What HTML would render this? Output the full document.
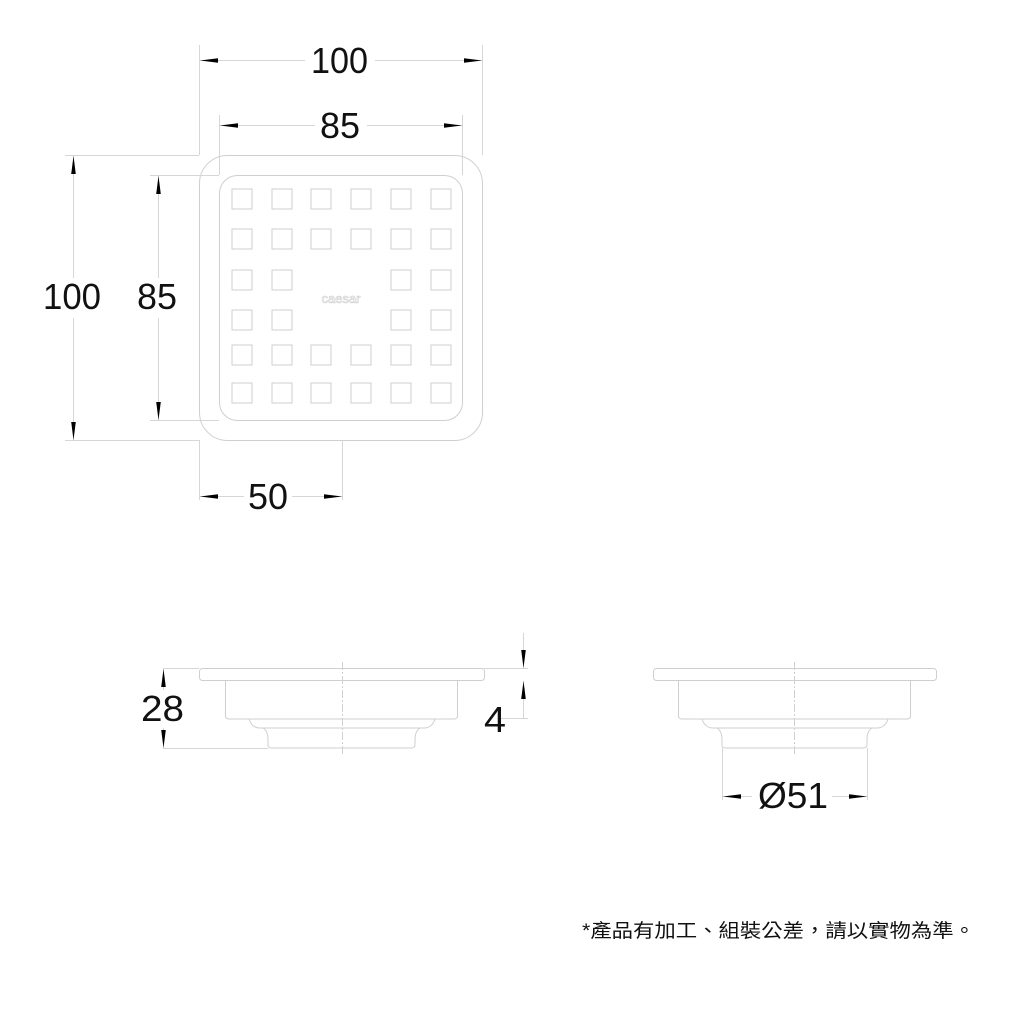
<!DOCTYPE html>
<html><head><meta charset="utf-8"><style>
html,body{margin:0;padding:0;background:#fff;}
svg{display:block;}
.l{stroke:#cfcfcf;stroke-width:1;fill:none;}
.d{stroke:#d6d6d6;stroke-width:1;fill:none;}
.t{font-family:"Liberation Sans",sans-serif;font-size:36px;fill:#111;}
</style></head><body>
<svg width="1036" height="1024" viewBox="0 0 1036 1024" xmlns="http://www.w3.org/2000/svg">
<defs>
<marker id="a" markerWidth="18" markerHeight="6" refX="18" refY="3" orient="auto-start-reverse" markerUnits="userSpaceOnUse">
<path d="M18,3 L0,0.7 L0,5.3 Z" fill="#000"/></marker>
</defs>
<!-- top view -->
<rect class="l" x="199.5" y="155.5" width="283" height="285" rx="28"/>
<rect class="l" x="219.5" y="175.5" width="243" height="245" rx="18"/>
<g class="l">
<g id="r"><rect x="232" y="189" width="20" height="20"/><rect x="272" y="189" width="20" height="20"/><rect x="311" y="189" width="20" height="20"/><rect x="351" y="189" width="20" height="20"/><rect x="391" y="189" width="20" height="20"/><rect x="431" y="189" width="20" height="20"/></g>
<use href="#r" y="40"/>
<use href="#r" y="156"/>
<use href="#r" y="194"/>
<rect x="232" y="270" width="20" height="20"/><rect x="272" y="270" width="20" height="20"/><rect x="391" y="270" width="20" height="20"/><rect x="431" y="270" width="20" height="20"/>
<rect x="232" y="310" width="20" height="20"/><rect x="272" y="310" width="20" height="20"/><rect x="391" y="310" width="20" height="20"/><rect x="431" y="310" width="20" height="20"/>
</g>
<text x="341" y="303" text-anchor="middle" style="font-family:'Liberation Sans',sans-serif;font-size:13px;fill:#fff;stroke:#ccc;stroke-width:0.6">caesar</text>
<g class="d">
<line x1="199.5" y1="45" x2="199.5" y2="155"/><line x1="482.5" y1="45" x2="482.5" y2="155"/>
<line x1="219.5" y1="115" x2="219.5" y2="175"/><line x1="462.5" y1="115" x2="462.5" y2="175"/>
<line x1="65" y1="155.5" x2="199" y2="155.5"/><line x1="65" y1="440.5" x2="199" y2="440.5"/>
<line x1="150" y1="175.5" x2="219" y2="175.5"/><line x1="150" y1="420.5" x2="219" y2="420.5"/>
<line x1="199.5" y1="440" x2="199.5" y2="500"/><line x1="342.5" y1="440" x2="342.5" y2="500"/>
</g>
<line class="d" x1="200" y1="60.5" x2="482" y2="60.5" marker-start="url(#a)" marker-end="url(#a)"/>
<line class="d" x1="220" y1="125.5" x2="462" y2="125.5" marker-start="url(#a)" marker-end="url(#a)"/>
<line class="d" x1="73.5" y1="156" x2="73.5" y2="440" marker-start="url(#a)" marker-end="url(#a)"/>
<line class="d" x1="158.5" y1="176" x2="158.5" y2="420" marker-start="url(#a)" marker-end="url(#a)"/>
<line class="d" x1="200" y1="496.5" x2="342" y2="496.5" marker-start="url(#a)" marker-end="url(#a)"/>
<rect x="305" y="40" width="70" height="36" fill="#fff"/>
<rect x="315" y="106" width="52" height="36" fill="#fff"/>
<rect x="40" y="278" width="64" height="40" fill="#fff"/>
<rect x="134" y="278" width="46" height="40" fill="#fff"/>
<rect x="244" y="478" width="48" height="36" fill="#fff"/>
<text class="t" x="311" y="73" textLength="57" lengthAdjust="spacingAndGlyphs">100</text>
<text class="t" x="320" y="138" textLength="40" lengthAdjust="spacingAndGlyphs">85</text>
<text class="t" x="43" y="309" textLength="58" lengthAdjust="spacingAndGlyphs">100</text>
<text class="t" x="137" y="309" textLength="40" lengthAdjust="spacingAndGlyphs">85</text>
<text class="t" x="248" y="509" textLength="40" lengthAdjust="spacingAndGlyphs">50</text>
<!-- side view 1 -->
<g class="l">
<rect x="199.5" y="668.5" width="285" height="12" rx="3"/>
<path d="M225.5,680 V716 Q225.5,719 229,719 H454 Q457.5,719 457.5,716 V680"/>
<path d="M249,719 Q252,728 260,728 H424 Q432,728 435,719"/>
<path d="M263,728 Q268,731 268,740 V745 Q268,748 272,748 H411 Q415,748 415,745 V740 Q415,731 420,728"/>
</g>
<line x1="342.5" y1="662" x2="342.5" y2="756" stroke="#d0d0d0" stroke-dasharray="8,2,2,2"/>
<g class="d">
<line x1="163" y1="668.5" x2="199" y2="668.5"/><line x1="163" y1="748.5" x2="268" y2="748.5"/>
<line x1="484" y1="668.5" x2="528" y2="668.5"/><line x1="500" y1="718.5" x2="528" y2="718.5"/>
</g>
<line class="d" x1="163.5" y1="690" x2="163.5" y2="669" marker-end="url(#a)"/>
<line class="d" x1="163.5" y1="728" x2="163.5" y2="748" marker-end="url(#a)"/>
<line class="d" x1="523.5" y1="633" x2="523.5" y2="668" marker-end="url(#a)"/>
<line class="d" x1="523.5" y1="718" x2="523.5" y2="681" marker-end="url(#a)"/>
<text class="t" x="141" y="721" textLength="43" lengthAdjust="spacingAndGlyphs">28</text>
<text class="t" x="484" y="732" textLength="22" lengthAdjust="spacingAndGlyphs">4</text>
<!-- side view 2 -->
<g class="l">
<rect x="653.5" y="668.5" width="283" height="12" rx="3"/>
<path d="M678.5,680 V716 Q678.5,719 682,719 H907 Q910.5,719 910.5,716 V680"/>
<path d="M702,719 Q705,728 713,728 H877 Q885,728 888,719"/>
<path d="M717,728 Q722,731 722,740 V745 Q722,748 726,748 H863 Q867,748 867,745 V740 Q867,731 872,728"/>
</g>
<line x1="794.5" y1="662" x2="794.5" y2="756" stroke="#d0d0d0" stroke-dasharray="8,2,2,2"/>
<g class="d">
<line x1="722.5" y1="748" x2="722.5" y2="800"/><line x1="867.5" y1="748" x2="867.5" y2="800"/>
</g>
<line class="d" x1="723" y1="796.5" x2="867" y2="796.5" marker-start="url(#a)" marker-end="url(#a)"/>
<rect x="752" y="776" width="80" height="36" fill="#fff"/>
<text class="t" x="758" y="808" textLength="70" lengthAdjust="spacingAndGlyphs">Ø51</text>
<text x="582" y="937" textLength="393" lengthAdjust="spacingAndGlyphs" style="font-family:'Liberation Sans','Noto Sans CJK TC',sans-serif;font-size:19px;fill:#111">*產品有加工、組裝公差，請以實物為準。</text>
</svg>
</body></html>
